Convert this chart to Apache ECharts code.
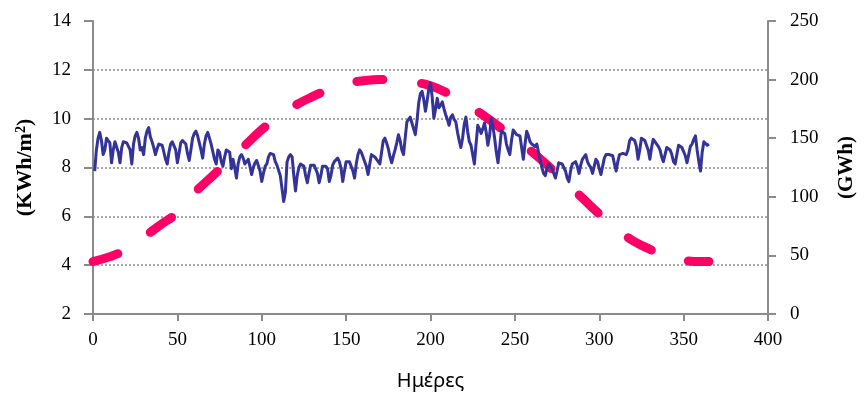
<!DOCTYPE html>
<html>
<head>
<meta charset="utf-8">
<script src="https://cdn.jsdelivr.net/npm/echarts@6/dist/echarts.min.js"></script>
<style>
  html, body { margin: 0; padding: 0; background: #fff; }
  #chart { width: 865px; height: 396px; }
</style>
</head>
<body>
<div id="chart"></div>
<script>
// Daily solar radiation (KWh/m2), sampled along the year
const solarDays = [0, 10, 20, 30, 40, 50, 60, 70, 80, 90, 100, 110, 120, 130, 140, 150, 160, 170, 180,
  190, 200, 210, 220, 230, 240, 250, 260, 270, 280, 290, 300, 310, 320, 330, 340, 350, 360, 365];
const solarValues = [4.15, 4.35, 4.65, 5.15, 5.65, 6.15, 6.95, 7.6, 8.25, 8.9, 9.55, 10.1, 10.55, 10.9, 11.2, 11.45, 11.55, 11.6, 11.6,
  11.5, 11.35, 11.05, 10.65, 10.2, 9.7, 9.2, 8.65, 8.05, 7.4, 6.75, 6.1, 5.5, 5.0, 4.65, 4.35, 4.2, 4.15, 4.15];

// Daily electricity demand (GWh), days 1..365, one row per week
const demandValues = [
  122, 140, 150, 155, 148, 136, 140,
  150, 148, 146, 129, 140, 147, 146,
  138, 129, 142, 147, 148, 146, 147,
  140, 128, 145, 152, 155, 150, 140,
  142, 136, 150, 156, 159, 151, 147,
  142, 136, 141, 145, 146, 144, 138,
  132, 128, 138, 145, 147, 146, 140,
  129, 137, 146, 148, 149, 145, 137,
  131, 140, 150, 154, 156, 152, 146,
  140, 133, 145, 152, 155, 150, 145,
  145, 132, 128, 140, 138, 130, 126,
  134, 140, 141, 138, 124, 132, 125,
  116, 128, 134, 136, 133, 128, 130,
  132, 126, 119, 125, 129, 131, 130,
  122, 113, 120, 126, 128, 134, 137,
  138, 136, 130, 127, 128, 118, 107,
  96, 104, 130, 134, 136, 134, 118,
  105, 118, 125, 128, 127, 126, 118,
  112, 120, 127, 128, 127, 126, 120,
  112, 118, 126, 127, 126, 124, 113,
  118, 127, 130, 131, 133, 130, 124,
  113, 122, 130, 131, 130, 129, 122,
  116, 128, 136, 140, 138, 134, 133,
  126, 119, 128, 136, 137, 134, 133,
  130, 128, 138, 148, 150, 146, 141,
  134, 129, 135, 140, 146, 153, 148,
  140, 136, 150, 164, 166, 168, 163,
  158, 153, 165, 180, 188, 190, 183,
  173, 182, 192, 197, 185, 167, 175,
  184, 176, 178, 181, 175, 170, 166,
  161, 168, 170, 166, 164, 155, 148,
  142, 150, 162, 168, 156, 147, 144,
  136, 128, 145, 161, 158, 154, 158,
  163, 155, 144, 152, 167, 160, 150,
  138, 129, 142, 156, 155, 154, 145,
  140, 136, 148, 157, 155, 153, 154,
  152, 142, 132, 145, 156, 152, 147,
  145, 144, 143, 145, 138, 131, 125,
  120, 118, 124, 128, 127, 124, 120,
  116, 122, 129, 130, 128, 129, 122,
  116, 113, 122, 128, 129, 130, 126,
  120, 127, 132, 134, 136, 130, 127,
  125, 120, 126, 132, 130, 124, 119,
  126, 133, 136, 137, 136, 137, 135,
  128, 122, 130, 136, 136, 137, 137,
  136, 140, 148, 150, 149, 148, 143,
  132, 140, 150, 149, 148, 147, 140,
  132, 142, 149, 147, 145, 143, 140,
  134, 130, 136, 142, 141, 140, 136,
  130, 128, 136, 144, 143, 142, 141,
  135, 129, 136, 143, 145, 149, 152,
  140, 130, 122, 138, 147, 146, 144,
  145
];

const leftTicks = { min: 2, max: 14, step: 2 };
const rightTicks = { min: 0, max: 250, step: 50 };
const dayTicks = { min: 0, max: 400, step: 50 };

const solarData = solarDays.map((d, i) => [d, solarValues[i]]);
const demandData = demandValues.map((v, i) => [i + 1, v]);

const axisGray = '#8a8a8a';
const numFont = { fontFamily: 'Liberation Serif', fontSize: 19, color: '#000' };

const chart = echarts.init(document.getElementById('chart'), null, { renderer: 'canvas' });
chart.setOption({
  animation: false,
  backgroundColor: '#fff',
  grid: { left: 93, right: 92, top: 21, bottom: 81, containLabel: false },
  xAxis: {
    type: 'value',
    min: dayTicks.min, max: dayTicks.max, interval: dayTicks.step,
    name: 'Ημέρες',
    nameLocation: 'middle',
    nameGap: 57,
    nameTextStyle: { fontFamily: 'Noto Sans', fontSize: 20, color: '#000' },
    axisLine: { show: true, lineStyle: { color: axisGray, width: 2 } },
    axisTick: { show: true, length: 7, lineStyle: { color: axisGray, width: 2 } },
    axisLabel: Object.assign({ margin: 17 }, numFont),
    splitLine: { show: false }
  },
  yAxis: [
    {
      type: 'value',
      position: 'left',
      min: leftTicks.min, max: leftTicks.max, interval: leftTicks.step,
      name: '{b|(KWh/m}{s|2}{b|)}',
      nameLocation: 'middle',
      nameRotate: 90,
      nameGap: 57,
      nameTextStyle: {
        rich: {
          b: { fontFamily: 'Liberation Serif', fontWeight: 'bold', fontSize: 22, color: '#000' },
          s: { fontFamily: 'Liberation Serif', fontWeight: 'bold', fontSize: 14, color: '#000', verticalAlign: 'top', padding: [0, 0, 8, 0] }
        }
      },
      axisLine: { show: true, lineStyle: { color: axisGray, width: 2 } },
      axisTick: { show: true, length: 9, lineStyle: { color: axisGray, width: 2 } },
      axisLabel: Object.assign({ margin: 22 }, numFont),
      splitLine: {
        show: true,
        showMinLine: false,
        showMaxLine: false,
        lineStyle: { color: '#8c8c8c', width: 1.5, type: [2, 2] }
      }
    },
    {
      type: 'value',
      position: 'right',
      min: rightTicks.min, max: rightTicks.max, interval: rightTicks.step,
      name: '(GWh)',
      nameLocation: 'middle',
      nameRotate: 90,
      nameGap: 68,
      nameTextStyle: { fontFamily: 'Liberation Serif', fontWeight: 'bold', fontSize: 21, color: '#000' },
      axisLine: { show: true, lineStyle: { color: axisGray, width: 2 } },
      axisTick: { show: true, length: 8, lineStyle: { color: axisGray, width: 2 } },
      axisLabel: Object.assign({ margin: 22 }, numFont),
      splitLine: { show: false }
    }
  ],
  series: [
    {
      name: 'solar',
      type: 'line',
      yAxisIndex: 0,
      data: solarData,
      smooth: 0.4,
      showSymbol: false,
      symbol: 'none',
      lineStyle: { color: '#ff0066', width: 9, type: [26, 39], cap: 'round' },
      z: 2
    },
    {
      name: 'demand',
      type: 'line',
      yAxisIndex: 1,
      data: demandData,
      showSymbol: false,
      symbol: 'none',
      lineStyle: { color: '#333399', width: 3, join: 'round' },
      z: 3
    }
  ]
});
</script>
</body>
</html>
